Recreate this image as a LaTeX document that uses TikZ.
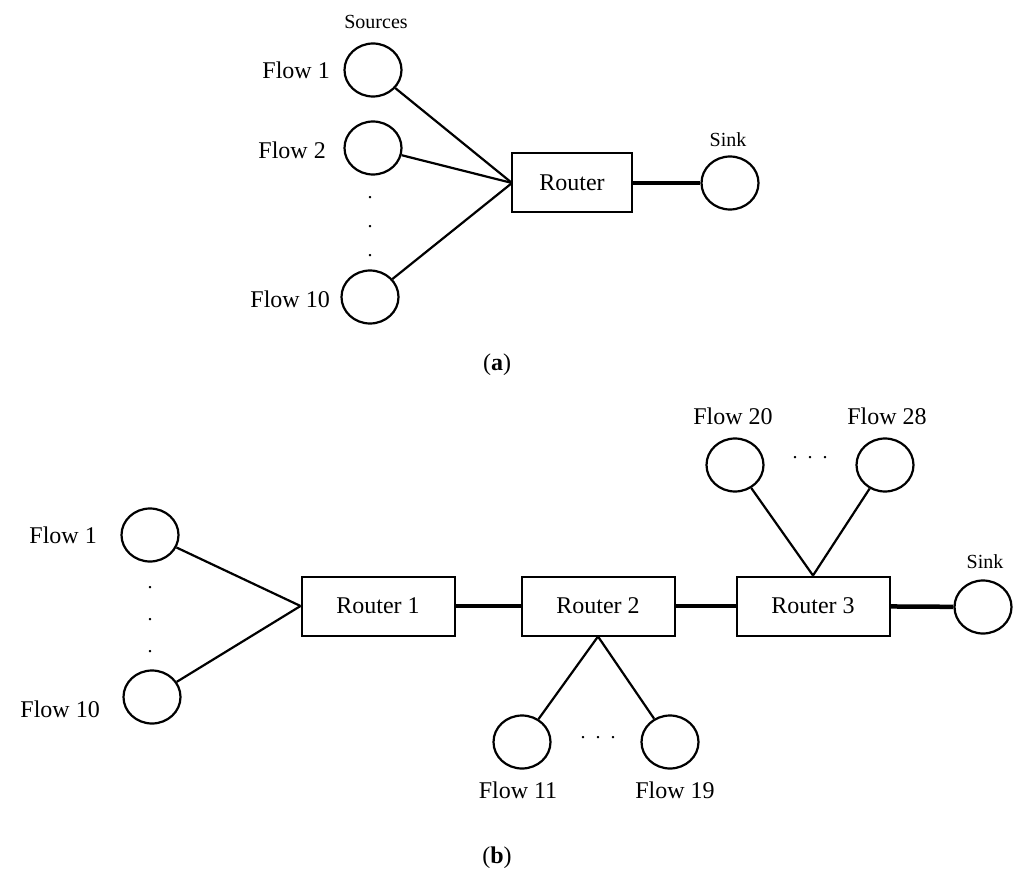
\documentclass[tikz,border=0pt]{standalone}
\usepackage{fontspec}
\setmainfont{Liberation Serif}
\usetikzlibrary{shapes.geometric}
\begin{document}
\begin{tikzpicture}[x=1pt,y=-1pt,
  fl/.style={ellipse,draw,line width=2.2pt,minimum width=57pt,minimum height=53pt,inner sep=0pt},
  rt/.style={rectangle,draw,line width=2pt,minimum width=153pt,minimum height=59pt,inner sep=0pt,font=\fontsize{24}{28}\selectfont},
  lb/.style={font=\fontsize{24}{28}\selectfont,inner sep=0pt},
  sl/.style={font=\fontsize{20}{24}\selectfont,inner sep=0pt},
  ln/.style={line width=2.2pt},
  tk/.style={line width=4.5pt},
  dt/.style={font=\fontsize{20}{24}\selectfont,inner sep=0pt}]
\useasboundingbox (0,0) rectangle (1024,890);
% (a)
\node[sl] (src) at (376,22) {Sources};
\node[fl] (a1) at (373,70) {};
\node[fl] (a2) at (373,148) {};
\node[fl] (a10) at (370,297) {};
\node[lb,anchor=east] (la1) at (330,70) {Flow 1};
\node[lb,anchor=east] (la2) at (326,150) {Flow 2};
\node[lb,anchor=east] (la10) at (330,299) {Flow 10};
\node[dt] (ad1) at (370,198) {.};
\node[dt] (ad2) at (370,227) {.};
\node[dt] (ad3) at (370,256) {.};
\node[rt,minimum width=120pt] (ar) at (572,183) {Router};
\node[fl] (as) at (730,183) {};
\node[sl] (asl) at (728,140) {Sink};
\coordinate (aw) at (512,183);
\draw[ln] (a1) -- (aw);
\draw[ln] (a2) -- (aw);
\draw[ln] (a10) -- (aw);
\draw[tk] (ar) -- (as);
\node[lb] (la) at (497,365) {(\textbf{a})};
% (b)
\node[fl] (b1) at (150,535) {};
\node[fl] (b10) at (152,697) {};
\node[lb,anchor=east] (lb1) at (97,535) {Flow 1};
\node[lb,anchor=east] (lb10) at (100,709) {Flow 10};
\node[dt] (bd1) at (150,588) {.};
\node[dt] (bd2) at (150,620) {.};
\node[dt] (bd3) at (150,652) {.};
\node[rt] (r1) at (378,606) {Router 1};
\node[rt] (r2) at (598,606) {Router 2};
\node[rt] (r3) at (813,606) {Router 3};
\node[fl] (bs) at (983,607) {};
\node[sl] (bsl) at (985,562) {Sink};
\draw[ln] (b1) -- (r1.west);
\draw[ln] (b10) -- (r1.west);
\draw[tk] (r1) -- (r2);
\draw[tk] (r2) -- (r3);
\draw[tk] (r3) -- (bs);
\node[fl] (f20) at (735,465) {};
\node[fl] (f28) at (885,465) {};
\node[lb] (l20) at (733,416) {Flow 20};
\node[lb] (l28) at (887,416) {Flow 28};
\node[dt] (td) at (810,458) {.\hspace{10pt}.\hspace{10pt}.};
\draw[ln] (f20) -- (r3.north);
\draw[ln] (f28) -- (r3.north);
\node[fl] (f11) at (522,742) {};
\node[fl] (f19) at (670,742) {};
\node[lb] (l11) at (518,790) {Flow 11};
\node[lb] (l19) at (675,790) {Flow 19};
\node[dt] (bd) at (598,738) {.\hspace{10pt}.\hspace{10pt}.};
\draw[ln] (f11) -- (r2.south);
\draw[ln] (f19) -- (r2.south);
\node[lb] (lbb) at (497,858) {(\textbf{b})};
\end{tikzpicture}
\end{document}
